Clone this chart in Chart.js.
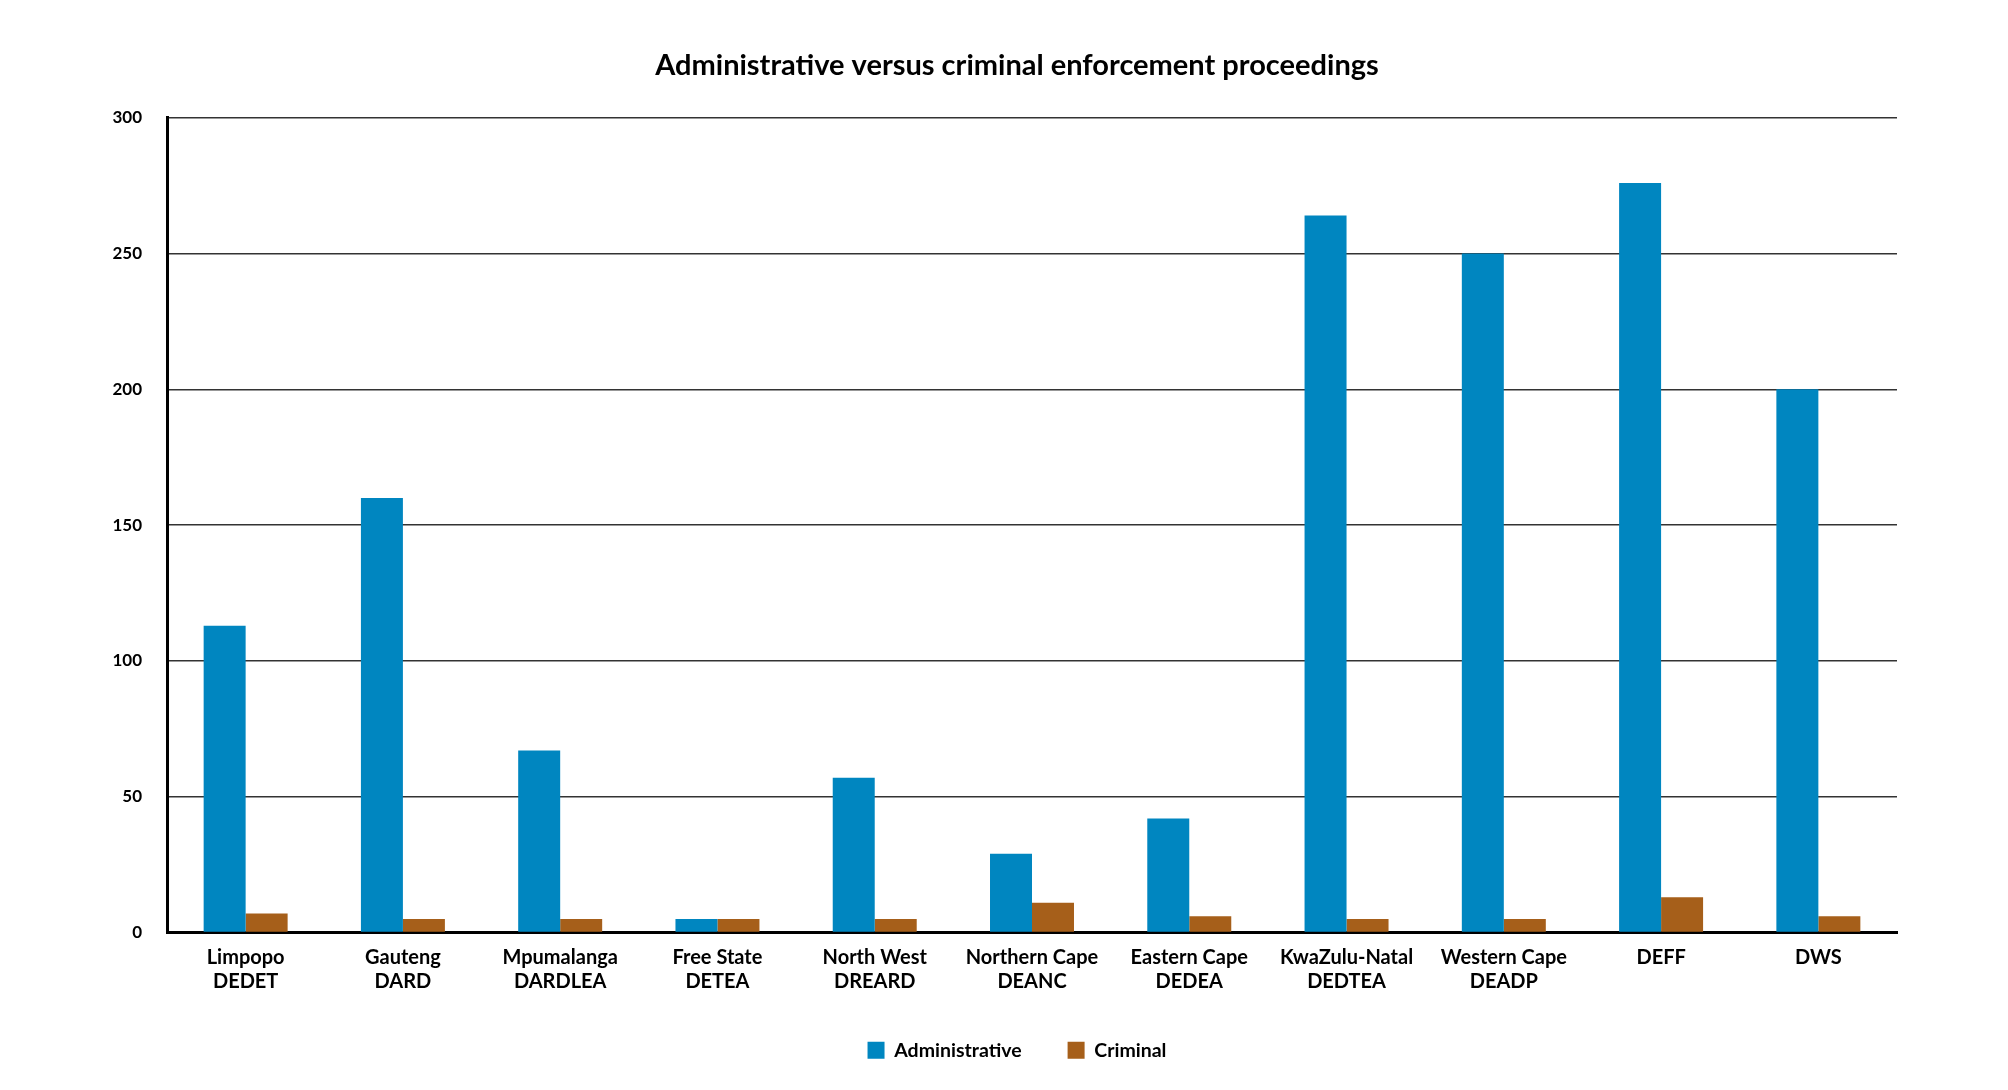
<!DOCTYPE html>
<html>
<head>
<meta charset="utf-8">
<script src="https://cdn.jsdelivr.net/npm/chart.js@4"></script>
<style>
  html, body { margin: 0; padding: 0; background: #fff; }
  .wrap { width: 2008px; height: 1090px; }
</style>
</head>
<body>
<div class="wrap"><canvas id="chart" width="2008" height="1090"></canvas></div>
<script>
const regions = [
  ['Limpopo', 'DEDET'], ['Gauteng', 'DARD'], ['Mpumalanga', 'DARDLEA'],
  ['Free State', 'DETEA'], ['North West', 'DREARD'], ['Northern Cape', 'DEANC'],
  ['Eastern Cape', 'DEDEA'], ['KwaZulu-Natal', 'DEDTEA'], ['Western Cape', 'DEADP'],
  ['DEFF'], ['DWS']
];
const administrative = [113, 160, 67, 5, 57, 29, 42, 264, 250, 276, 200];
const criminal = [7, 5, 5, 5, 5, 11, 6, 5, 5, 13, 6];
const yTicks = [0, 50, 100, 150, 200, 250, 300];

const font = "Lato, 'DejaVu Sans', sans-serif";
Chart.defaults.font.family = font;
Chart.defaults.color = '#000';

const ctx = document.getElementById('chart');

new Chart(ctx, {
  type: 'bar',
  data: {
    labels: regions,
    datasets: [{
      label: 'Administrative',
      data: administrative,
      backgroundColor: '#0086c0',
      barPercentage: 1,
      categoryPercentage: 0.534
    },
    {
      label: 'Criminal',
      data: criminal,
      backgroundColor: '#a65f1a',
      barPercentage: 1,
      categoryPercentage: 0.534
    }]
  },
  options: {
    responsive: false,
    animation: false,
    layout: {
      padding: { left: 26, right: 0, top: 0, bottom: 20 }
    },
    scales: {
      x: {
        grid: { display: false, drawTicks: false },
        border: { display: true, color: '#000', width: 3 },
        afterFit: (scale) => { scale.height = 62; },
        ticks: {
          padding: 13,
          font: { size: 20, weight: 'bold', lineHeight: 1.2 },
          maxRotation: 0,
          autoSkip: false
        }
      },
      y: {
        min: 0,
        max: 300,
        afterFit: (scale) => { scale.width = 141; },
        afterBuildTicks: (scale) => { scale.ticks = yTicks.map(v => ({ value: v })); },
        grid: { color: '#333', lineWidth: 1.5, drawTicks: false },
        border: { display: true, color: '#000', width: 3 },
        ticks: {
          padding: 25,
          font: { size: 17, weight: 'bold' }
        }
      },
      // empty right-hand gutter so the plot ends where the original does
      gutter: {
        position: 'right',
        min: 0,
        max: 300,
        afterFit: (scale) => { scale.width = 111; },
        grid: { display: false, drawTicks: false },
        border: { display: false },
        ticks: { display: false }
      }
    },
    plugins: {
      title: {
        display: true,
        text: 'Administrative versus criminal enforcement proceedings',
        font: { size: 29, weight: 'bold' },
        color: '#000',
        padding: { top: 48, bottom: 35 }
      },
      legend: {
        position: 'bottom',
        maxHeight: 90,
        labels: {
          boxWidth: 17,
          boxHeight: 17,
          padding: 46,
          font: { size: 19.5, weight: 'bold' }
        }
      },
      tooltip: { enabled: false }
    }
  }
});
</script>
</body>
</html>
